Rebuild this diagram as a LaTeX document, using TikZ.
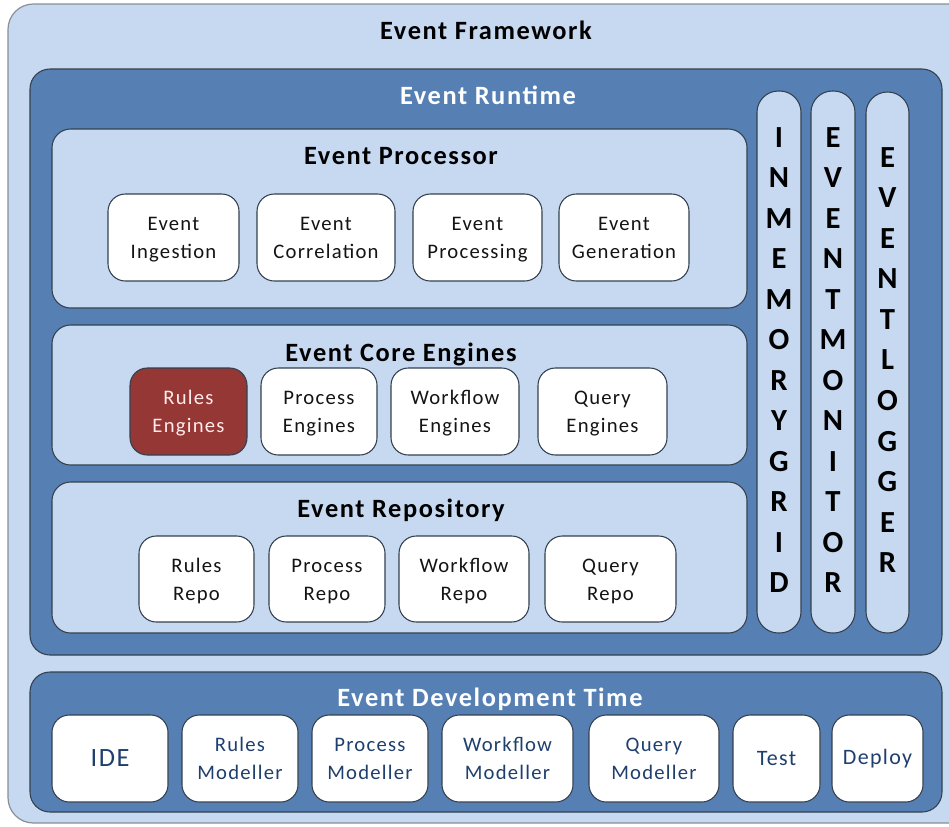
\documentclass[tikz,border=0pt]{standalone}
\usepackage{fontspec}
\setmainfont{Carlito}[LetterSpace=6]
\definecolor{lightb}{HTML}{C6D9F1}
\definecolor{darkb}{HTML}{5680B3}
\definecolor{bordc}{HTML}{34404E}
\definecolor{framec}{HTML}{8A8F96}
\definecolor{redbox}{HTML}{953735}
\definecolor{navyc}{HTML}{1F3F6E}
\definecolor{txtc}{HTML}{141414}
\newcommand\fntTitle{\fontsize{19.8}{24}\selectfont\bfseries}
\newcommand\fntSmall{\fontsize{15.5}{21}\selectfont}
\newcommand\fntVert{\fontsize{23}{30.4}\selectfont\bfseries}
\newcommand\lnstrut{\rule[-5.1pt]{0pt}{21pt}}
\newcommand\twol[2]{\lnstrut #1\\\lnstrut #2}
\newcommand\boxn[7]{\node[#6, inner sep=0pt, outer sep=0pt, minimum width={(#4-#2)*0.75pt}, minimum height={(#5-#3)*0.75pt}] (#1) at ({(#2+#4)/2},{(#3+#5)/2}) {#7};}
\begin{document}
\begin{tikzpicture}[x=0.75pt,y=-0.75pt,
  framebox/.style={draw=framec, line width=0.9pt, fill=lightb, rounded corners=19pt},
  darkpanel/.style={draw=bordc, line width=0.8pt, fill=darkb, rounded corners=15pt},
  lightpanel/.style={draw=bordc, line width=0.8pt, fill=lightb, rounded corners=14pt},
  pill/.style={draw=bordc, line width=0.8pt, fill=lightb, rounded corners=16pt},
  sbox/.style={draw=bordc, line width=0.8pt, fill=white, rounded corners=13pt, align=center, text=txtc, font=\fntSmall},
  rbox/.style={draw=bordc, line width=0.8pt, fill=redbox, rounded corners=13pt, align=center, text=white!92!red, font=\fntSmall},
  dbox/.style={draw=bordc, line width=0.8pt, fill=white, rounded corners=13pt, align=center, text=navyc, font=\fntSmall},
  title/.style={anchor=base, inner sep=0pt, font=\fntTitle},
  vert/.style={align=center, inner sep=0pt, font=\fntVert, text=black}]
\path[use as bounding box, fill=white] (0,0) rectangle (949,826);
\clip (0,0) rectangle (949,826);
% outer frame
\boxn{frame}{8}{4}{975}{823}{framebox}{}
\node[title, text=black] (tframe) at (486,39) {Event Framework};
% runtime
\boxn{runtime}{30}{69}{942}{655}{darkpanel}{}
\node[title, text=white] (truntime) at (488,104) {Event Runtime};
% processor
\boxn{proc}{52}{129}{747}{308}{lightpanel}{}
\node[title, text=black] (tproc) at (401,164) {Event Processor};
\boxn{ing}{108}{194}{239}{281}{sbox}{\twol{Event}{Ingestion}}
\boxn{cor}{257}{194}{395}{281}{sbox}{\twol{Event}{Correlation}}
\boxn{prc}{413}{194}{542}{281}{sbox}{\twol{Event}{Processing}}
\boxn{gen}{559}{194}{689}{281}{sbox}{\twol{Event}{Generation}}
% core engines
\boxn{core}{52}{325}{747}{465}{lightpanel}{}
\node[title, text=black] (tcore) at (401,361) {Event Core Engines};
\boxn{rule}{130}{368}{247}{455}{rbox}{\twol{Rules}{Engines}}
\boxn{pen}{261}{368}{377}{455}{sbox}{\twol{Process}{Engines}}
\boxn{wen}{391}{368}{519}{455}{sbox}{\twol{Workflow}{Engines}}
\boxn{qen}{538}{368}{667}{455}{sbox}{\twol{Query}{Engines}}
% repository
\boxn{repo}{52}{482}{747}{633}{lightpanel}{}
\node[title, text=black] (trepo) at (401,517) {Event Repository};
\boxn{rr}{139}{536}{254}{622}{sbox}{\twol{Rules}{Repo}}
\boxn{pr}{269}{536}{385}{622}{sbox}{\twol{Process}{Repo}}
\boxn{wr}{399}{536}{529}{622}{sbox}{\twol{Workflow}{Repo}}
\boxn{qr}{545}{536}{676}{622}{sbox}{\twol{Query}{Repo}}
% vertical pills
\boxn{grid}{757}{91}{801}{633}{pill}{}
\boxn{mon}{811}{91}{855}{633}{pill}{}
\boxn{log}{866}{92}{909}{633}{pill}{}
\node[vert] (tgrid) at (779,360) {I\\N\\M\\E\\M\\O\\R\\Y\\G\\R\\I\\D};
\node[vert] (tmon) at (833,360) {E\\V\\E\\N\\T\\M\\O\\N\\I\\T\\O\\R};
\node[vert] (tlog) at (887.5,360) {E\\V\\E\\N\\T\\L\\O\\G\\G\\E\\R};
% development time
\boxn{dev}{30}{672}{942}{812}{darkpanel}{}
\node[title, text=white] (tdev) at (490,706) {Event Development Time};
\boxn{ide}{52}{715}{168}{802}{dbox, font=\fontsize{19.8}{24}\selectfont}{IDE}
\boxn{rm}{182}{715}{298}{802}{dbox}{\twol{Rules}{Modeller}}
\boxn{pm}{312}{715}{428}{802}{dbox}{\twol{Process}{Modeller}}
\boxn{wm}{442}{715}{573}{802}{dbox}{\twol{Workflow}{Modeller}}
\boxn{qm}{589}{715}{719}{802}{dbox}{\twol{Query}{Modeller}}
\boxn{test}{733}{715}{820}{802}{dbox, font=\fontsize{16.5}{21}\selectfont}{Test}
\boxn{dep}{832}{715}{923}{802}{dbox, font=\fontsize{16.5}{21}\selectfont}{Deploy}
\end{tikzpicture}
\end{document}
